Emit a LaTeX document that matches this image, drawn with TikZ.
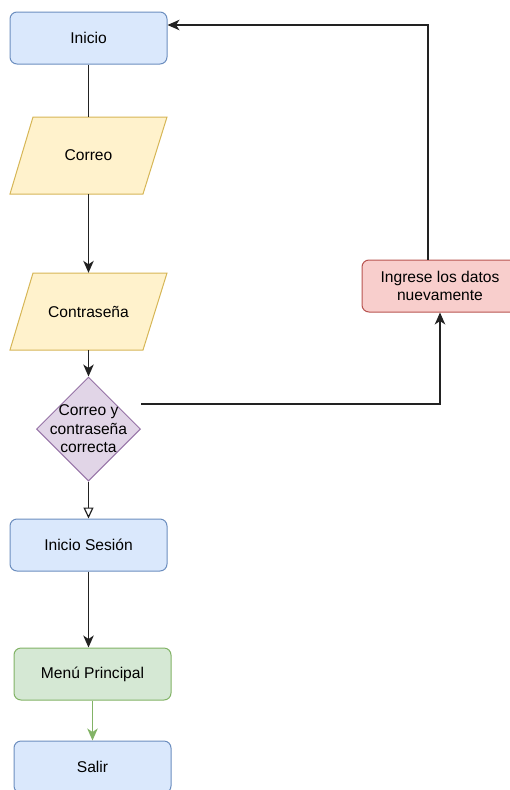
\documentclass[tikz,border=0pt]{standalone}
\usepackage{fontspec}
\setmainfont{Liberation Sans}
\usetikzlibrary{shapes.geometric,arrows.meta}

\definecolor{bluefill}{HTML}{DAE8FC}\definecolor{bluedraw}{HTML}{6C8EBF}
\definecolor{yelfill}{HTML}{FFF2CC}\definecolor{yeldraw}{HTML}{D6B656}
\definecolor{purfill}{HTML}{E1D5E7}\definecolor{purdraw}{HTML}{9673A6}
\definecolor{redfill}{HTML}{F8CECC}\definecolor{reddraw}{HTML}{B85450}
\definecolor{grnfill}{HTML}{D5E8D4}\definecolor{grndraw}{HTML}{82B366}
\definecolor{linecol}{HTML}{222222}

\tikzset{
  txt/.style={font=\fontsize{15.6}{18.5}\selectfont, text=black, align=center},
  boxbase/.style={txt, rectangle, rounded corners=7pt, line width=1pt,
                  minimum width=157pt, minimum height=52pt, inner sep=0pt},
  bluebox/.style={boxbase, fill=bluefill, draw=bluedraw},
  grnbox/.style={boxbase, fill=grnfill, draw=grndraw},
  redbox/.style={boxbase, fill=redfill, draw=reddraw, minimum width=156pt},
  iobox/.style={txt, rectangle, minimum width=157pt, minimum height=77pt, inner sep=0pt},
  ioshape/.style={fill=yelfill, draw=yeldraw, line width=1pt},
  decbox/.style={diamond, minimum width=104pt, minimum height=104pt, inner sep=0pt,
                 fill=purfill, draw=purdraw, line width=1pt},
  conn/.style={draw=linecol, line width=1.2pt},
  arr/.style={conn, -{Stealth[length=12pt,width=10.5pt,inset=3.5pt]}},
  openarr/.style={conn, -{Triangle[open,length=11pt,width=10pt,fill=white]}},
}

\begin{document}
\begin{tikzpicture}[x=1pt,y=-1pt]
\useasboundingbox (0,0) rectangle (510,790);

% input parallelograms (outline first, text node on top)
\path[ioshape] (33,117) -- (167,117) -- (143,194) -- (10,194) -- cycle;
\path[ioshape] (33,273) -- (167,273) -- (143,350) -- (10,350) -- cycle;

% process steps
\node[bluebox] (inicio) at (88.5,38) {Inicio};
\node[iobox] (correo) at (88.5,155.5) {Correo};
\node[iobox] (pass) at (88.5,311.5) {Contraseña};
\node[decbox, label={[name=declbl, txt]center:Correo y\\contraseña\\correcta}] (dec) at (88.5,429) {};
\node[bluebox] (sesion) at (88.5,545) {Inicio Sesión};
\node[grnbox] (menu) at (92.5,674) {Menú Principal};
\node[bluebox] (salir) at (92.5,767) {Salir};
\node[redbox] (reint) at (440,286) {Ingrese los datos\\nuevamente};

% main flow
\draw[conn] (inicio.south) -- (correo.north);
\draw[arr] (correo.south) -- (pass.north);
\draw[arr] (pass.south) -- (dec.north);
\draw[openarr] (dec.south) -- (sesion.north);
\draw[arr] (sesion.south) -- (sesion.south |- menu.north);
\draw[arr, draw=grndraw] (menu.south) -- (salir.north);

% retry loop
\coordinate (dout) at (141,404);
\draw[arr] (dout) -| (reint.south);
\draw[arr] ([xshift=-12pt]reint.north) |- ([yshift=13pt]inicio.east);
\end{tikzpicture}
\end{document}
